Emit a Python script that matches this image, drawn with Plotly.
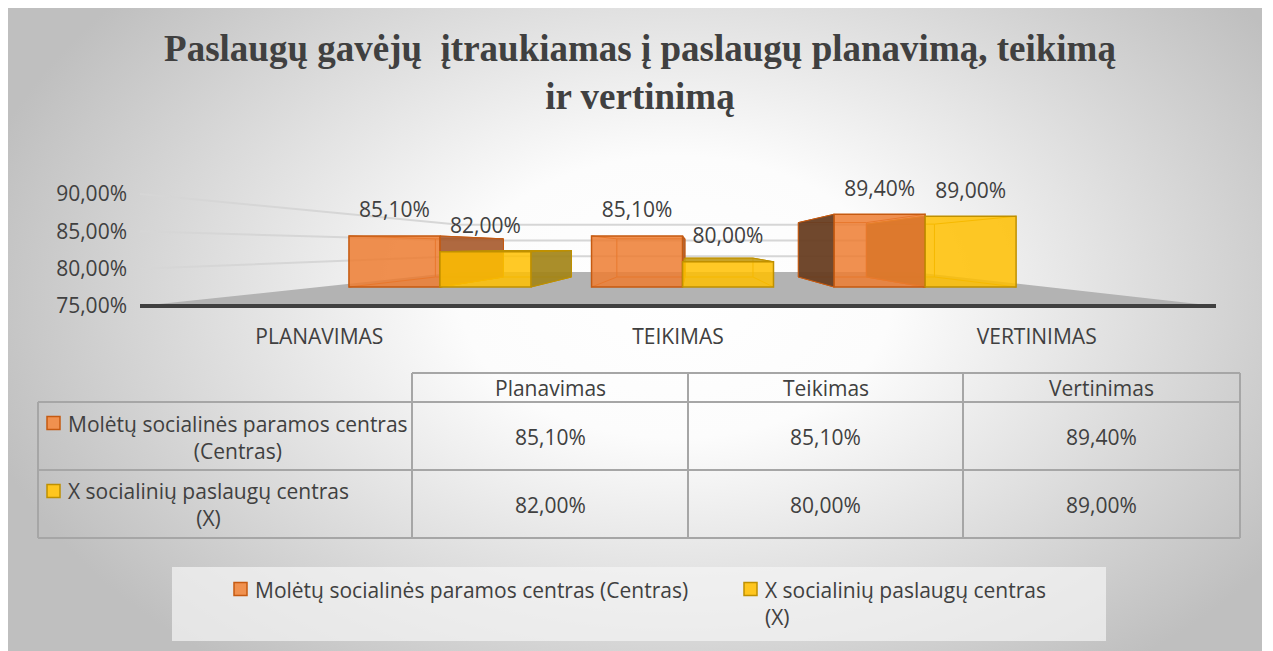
import base64
import plotly.graph_objects as go

# ---------------- data ----------------
categories = ["Planavimas", "Teikimas", "Vertinimas"]
series_names = ["Molėtų socialinės paramos centras (Centras)", "X socialinių paslaugų centras (X)"]
table_row_labels = ["Molėtų socialinės paramos centras<br>(Centras)", "X socialinių paslaugų centras<br>(X)"]
legend_labels = ["Molėtų socialinės paramos centras (Centras)", "X socialinių paslaugų centras<br>(X)"]
centras_values = [85.1, 85.1, 89.4]
x_values = [82.0, 80.0, 89.0]
y_tick_values = [75, 80, 85, 90]
title_text = "Paslaugų gavėjų\u00a0 įtraukiamas į paslaugų planavimą, teikimą<br>ir vertinimą"


def pct(v):
    return f"{v:.2f}".replace(".", ",") + "%"


# ---------------- style / geometry ----------------
OFF = 8                      # default page margin of the html body
FIG_W, FIG_H = 1273 - OFF, 651 - OFF
L, R, T, B = 140 - OFF, 57, 150 - OFF, 331
PW = FIG_W - L - R
PH = FIG_H - T - B
X_RANGE = [-0.5, 2.5]
Y_RANGE = [73.125, 95.893]
Y_BASE = 75

# simple perspective (vanishing point in data units, depth fractions)
VX, VV = 1.039, 82.86
F_FRONT, F_BACK, F_WALL = 0.3236, 0.494, 0.579
BAR_W = 0.375

FONT = "Open Sans"
FS = 21
TXT = "#404040"
series_style = [
    dict(front="rgba(237,125,49,0.85)", edge="#C55A11", right="rgba(168,92,48,0.92)",
         left="rgba(104,62,34,0.95)", top="rgba(200,105,45,0.9)", key="#F0914F", offset=-BAR_W),
    dict(front="rgba(255,192,0,0.85)", edge="#BF9000", right="rgba(163,132,24,0.92)",
         left="rgba(120,95,10,0.95)", top="rgba(196,156,22,0.92)", key="#FFC61E", offset=0.0),
]
series_values = [centras_values, x_values]


# page pixel -> paper coordinates
def PX(x):
    return (x - OFF - L) / PW


def PY(y):
    return (FIG_H - B - (y - OFF)) / PH


def proj(X, v, f):
    return X + f * (VX - X), v + f * (VV - v)


def path(points, close=True):
    s = "M " + " L ".join(f"{x:.5f},{y:.5f}" for x, y in points)
    return s + (" Z" if close else "")


shapes = []

# floor
fl = [proj(X_RANGE[0], Y_BASE, 0), proj(X_RANGE[1], Y_BASE, 0),
      proj(X_RANGE[1], Y_BASE, F_WALL), proj(X_RANGE[0], Y_BASE, F_WALL)]
shapes.append(dict(type="path", xref="x", yref="y", path=path(fl), fillcolor="#b3b3b3",
                   line=dict(width=0), layer="below"))
# gridlines: left wall + back wall
for v in y_tick_values[1:]:
    pts = [proj(X_RANGE[0], v, 0), proj(X_RANGE[0], v, F_WALL), proj(X_RANGE[1], v, F_WALL)]
    shapes.append(dict(type="path", xref="x", yref="y", path=path(pts, close=False),
                       line=dict(color="#d6d6d6", width=2), layer="below"))
# front edge of floor
shapes.append(dict(type="line", xref="x", yref="y", x0=X_RANGE[0], x1=X_RANGE[1], y0=Y_BASE, y1=Y_BASE,
                   line=dict(color="#404040", width=4), layer="below"))

# 3D faces of bars (painter's order: farthest from vanishing point first)
bars = []
for si, vals in enumerate(series_values):
    for ci, v in enumerate(vals):
        xl = ci + series_style[si]["offset"]
        xr = xl + BAR_W
        bars.append((abs((xl + xr) / 2 - VX), si, ci, xl, xr, v))
bars.sort(key=lambda b: -b[0])

for _, si, ci, xl, xr, v in bars:
    st = series_style[si]
    fbl, fbr = proj(xl, Y_BASE, F_FRONT), proj(xr, Y_BASE, F_FRONT)
    ftl, ftr = proj(xl, v, F_FRONT), proj(xr, v, F_FRONT)
    bbl, bbr = proj(xl, Y_BASE, F_BACK), proj(xr, Y_BASE, F_BACK)
    btl, btr = proj(xl, v, F_BACK), proj(xr, v, F_BACK)
    # hidden edges (seen through translucent faces)
    wire = path([bbl, bbr, btr, btl]) + " " + path([fbl, bbl], False) + " " + path([fbr, bbr], False) \
        + " " + path([ftl, btl], False) + " " + path([ftr, btr], False)
    shapes.append(dict(type="path", xref="x", yref="y", path=wire,
                       line=dict(color=st["edge"], width=1), layer="below"))
    if xr < VX:
        shapes.append(dict(type="path", xref="x", yref="y", path=path([fbr, ftr, btr, bbr]),
                           fillcolor=st["right"], line=dict(color=st["edge"], width=1), layer="below"))
    if xl > VX:
        shapes.append(dict(type="path", xref="x", yref="y", path=path([fbl, ftl, btl, bbl]),
                           fillcolor=st["left"], line=dict(color=st["edge"], width=1), layer="below"))
    if v < VV:
        shapes.append(dict(type="path", xref="x", yref="y", path=path([ftl, ftr, btr, btl]),
                           fillcolor=st["top"], line=dict(color=st["edge"], width=1), layer="below"))

fig = go.Figure()

# front faces of the bars
for si, vals in enumerate(series_values):
    st = series_style[si]
    xs, bases, heights = [], [], []
    for ci, v in enumerate(vals):
        xc = ci + st["offset"] + BAR_W / 2
        px_, bottom = proj(xc, Y_BASE, F_FRONT)
        _, top = proj(xc, v, F_FRONT)
        xs.append(px_)
        bases.append(bottom)
        heights.append(top - bottom)
    fig.add_trace(go.Bar(
        x=xs, y=heights, base=bases, width=[BAR_W * (1 - F_FRONT)] * len(xs),
        name=series_names[si], showlegend=False,
        marker=dict(color=st["front"], line=dict(color=st["edge"], width=1.5)),
        customdata=[pct(v) for v in vals], hovertemplate="%{customdata}<extra>" + series_names[si] + "</extra>",
    ))

# data labels
for si, vals in enumerate(series_values):
    st = series_style[si]
    lx, ly = [], []
    for ci, v in enumerate(vals):
        xc = ci + st["offset"] + BAR_W / 2
        px_, top = proj(xc, v, F_FRONT)
        lx.append(px_)
        ly.append(top + 3.2)
    fig.add_trace(go.Scatter(x=lx, y=ly, mode="text", text=[pct(v) for v in vals],
                             textposition="middle center", showlegend=False, hoverinfo="skip",
                             textfont=dict(family=FONT, size=FS, color=TXT), cliponaxis=False))

# ---------------- data table ----------------
GRID = "#a6a6a6"
col_x = [412, 688, 963, 1240]
row_y = [373, 402, 470, 538]
tbl_left = 38


def pline(x0, y0, x1, y1):
    shapes.append(dict(type="line", xref="paper", yref="paper", x0=PX(x0), x1=PX(x1), y0=PY(y0), y1=PY(y1),
                       line=dict(color=GRID, width=2), layer="above"))


pline(col_x[0], row_y[0], col_x[-1], row_y[0])
for y in row_y[1:]:
    pline(tbl_left, y, col_x[-1], y)
pline(tbl_left, row_y[1], tbl_left, row_y[-1])
for x in col_x:
    pline(x, row_y[0], x, row_y[-1])

annotations = []


def ptext(x, y, text, xanchor="center", yanchor="middle", align="center", size=FS):
    annotations.append(dict(x=PX(x), y=PY(y), xref="paper", yref="paper", text=text, showarrow=False,
                            xanchor=xanchor, yanchor=yanchor, align=align,
                            font=dict(family=FONT, size=size, color=TXT)))


def key_box(x, y, si):
    shapes.append(dict(type="rect", xref="paper", yref="paper", x0=PX(x), x1=PX(x + 13), y0=PY(y - 6.5),
                       y1=PY(y + 6.5), fillcolor=series_style[si]["key"],
                       line=dict(color=series_style[si]["edge"], width=1.5), layer="above"))


for ci, c in enumerate(categories):
    cx = (col_x[ci] + col_x[ci + 1]) / 2
    ptext(cx, (row_y[0] + row_y[1]) / 2, c)
    for si, vals in enumerate(series_values):
        ptext(cx, (row_y[si + 1] + row_y[si + 2]) / 2 + 1, pct(vals[ci]))
for si in range(2):
    mid = (row_y[si + 1] + row_y[si + 2]) / 2 + 1
    ptext(66, mid, table_row_labels[si], xanchor="left", align="center")
    key_box(47, mid - 14, si)

# ---------------- legend (bottom) ----------------
shapes.append(dict(type="rect", xref="paper", yref="paper", x0=PX(172), x1=PX(1106), y0=PY(567), y1=PY(641),
                   fillcolor="rgba(245,245,245,0.7)", line=dict(width=0), layer="above"))
leg_keys = [234, 744]
for si in range(2):
    k = leg_keys[si]
    key_box(k, 589, si)
    ptext(k + 19, 574, legend_labels[si], xanchor="left", yanchor="top", align="left")

# ---------------- background ----------------
svg = ('<svg xmlns="http://www.w3.org/2000/svg" width="1256" height="644" viewBox="0 0 1256 644">'
       '<defs><radialGradient id="g" gradientUnits="userSpaceOnUse" cx="0" cy="0" r="1" '
       'gradientTransform="translate(670 290) scale(720 470)">'
       '<stop offset="0" stop-color="#ffffff"/><stop offset="0.3" stop-color="#fcfcfc"/>'
       '<stop offset="1" stop-color="#bfbfbf"/></radialGradient></defs>'
       '<rect width="1256" height="644" fill="url(#g)"/></svg>')
bg_src = "data:image/svg+xml;base64," + base64.b64encode(svg.encode()).decode()

fig.update_layout(
    width=FIG_W, height=FIG_H,
    margin=dict(l=L, r=R, t=T, b=B),
    paper_bgcolor="white", plot_bgcolor="rgba(0,0,0,0)",
    barmode="overlay", showlegend=False,
    title=dict(text=title_text, x=(640 - OFF) / FIG_W, xanchor="center", xref="container",
               y=1 - 53 / FIG_H, yanchor="top", yref="container",
               font=dict(family="Liberation Serif", size=37, color=TXT, weight="bold")),
    xaxis=dict(range=X_RANGE, tickvals=[0, 1, 2], ticktext=[c.upper() for c in categories],
               showgrid=False, zeroline=False, showline=False, ticks="", fixedrange=True,
               ticklabelstandoff=2, tickfont=dict(family=FONT, size=FS, color=TXT)),
    yaxis=dict(range=Y_RANGE, tickvals=y_tick_values, ticktext=[pct(v) for v in y_tick_values],
               showgrid=False, zeroline=False, showline=False, ticks="", fixedrange=True,
               ticklabelstandoff=12, tickfont=dict(family=FONT, size=FS, color=TXT)),
    shapes=shapes, annotations=annotations,
    images=[dict(source=bg_src, xref="paper", yref="paper", x=PX(6), y=PY(7),
                 sizex=1256 / PW, sizey=644 / PH, xanchor="left", yanchor="top",
                 sizing="stretch", layer="below")],
)

fig.write_html("out.html")
